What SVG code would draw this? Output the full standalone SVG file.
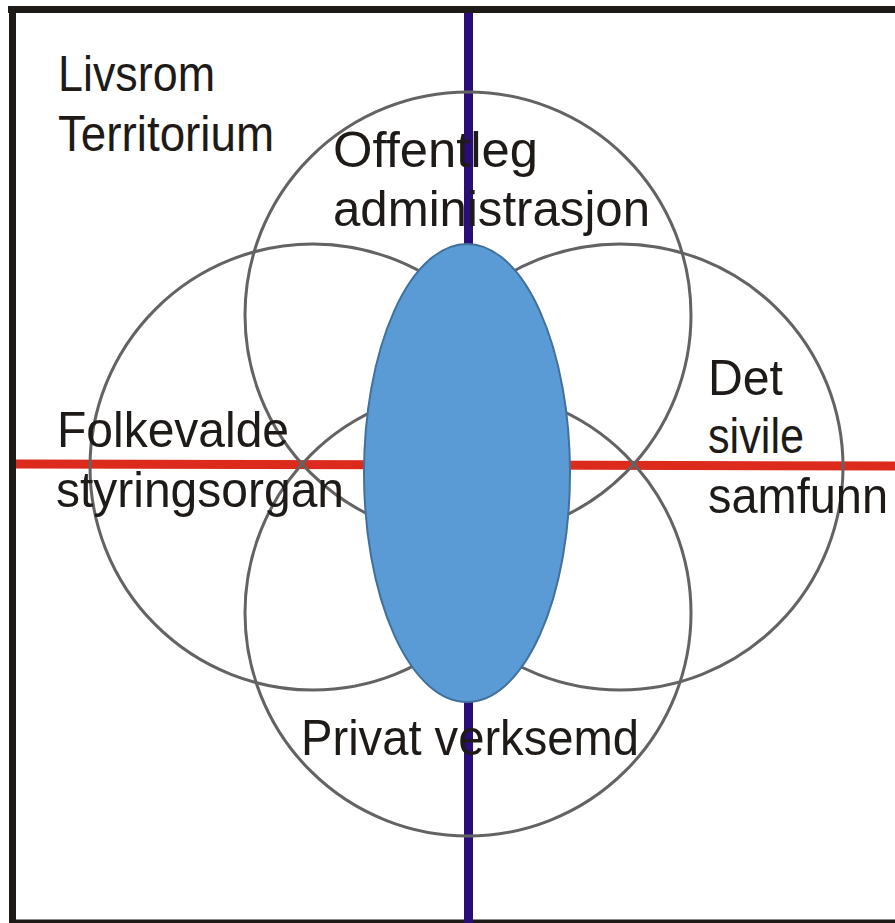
<svg xmlns="http://www.w3.org/2000/svg" width="895" height="923" viewBox="0 0 895 923">
  <style>
    .ring { fill: none; stroke: #646262; stroke-width: 3; }
    .lbl { font-family: "Liberation Sans", Arial, sans-serif; font-size: 50px; fill: #1e1a18; }
    .frame { stroke: #1e1a18; fill: none; }
  </style>
  <rect width="895" height="923" fill="#ffffff"/>

  <!-- outer frame -->
  <g id="frame">
    <line class="frame" x1="8" y1="9.5" x2="895" y2="9.5" stroke-width="7"/>
    <line class="frame" x1="12.5" y1="6" x2="12.5" y2="923" stroke-width="7"/>
    <line class="frame" x1="9" y1="921.5" x2="895" y2="921.5" stroke-width="4"/>
    <text class="lbl" x="58" y="91" textLength="157" lengthAdjust="spacingAndGlyphs">Livsrom</text>
    <text class="lbl" x="58" y="151" textLength="216" lengthAdjust="spacingAndGlyphs">Territorium</text>
  </g>

  <!-- axes -->
  <g id="connectors">
    <line x1="16" y1="464" x2="895" y2="466" stroke="#dc2a1c" stroke-width="9"/>
    <line x1="468.5" y1="13" x2="468.5" y2="923" stroke="#2b0d78" stroke-width="9"/>
  </g>

  <!-- four overlapping sectors -->
  <g id="offentleg">
    <circle class="ring" cx="468" cy="315" r="223"/>
  </g>
  <g id="folkevalde">
    <circle class="ring" cx="313" cy="467" r="223"/>
  </g>
  <g id="sivile">
    <circle class="ring" cx="620" cy="467" r="223"/>
  </g>
  <g id="privat">
    <circle class="ring" cx="468" cy="613" r="223"/>
  </g>

  <!-- shared core -->
  <g id="core">
    <ellipse cx="467" cy="473" rx="103" ry="229" fill="#5b9bd5" stroke="#41719c" stroke-width="2"/>
  </g>

  <!-- sector labels -->
  <g id="labels">
    <text class="lbl" x="333" y="167" textLength="205" lengthAdjust="spacingAndGlyphs">Offentleg</text>
    <text class="lbl" x="333" y="226" textLength="317" lengthAdjust="spacingAndGlyphs">administrasjon</text>
    <text class="lbl" x="57" y="447" textLength="232" lengthAdjust="spacingAndGlyphs">Folkevalde</text>
    <text class="lbl" x="56" y="507" textLength="288" lengthAdjust="spacingAndGlyphs">styringsorgan</text>
    <text class="lbl" x="708" y="395" textLength="75" lengthAdjust="spacingAndGlyphs">Det</text>
    <text class="lbl" x="708" y="453" textLength="96" lengthAdjust="spacingAndGlyphs">sivile</text>
    <text class="lbl" x="708" y="513" font-size="47" textLength="180" lengthAdjust="spacingAndGlyphs">samfunn</text>
    <text class="lbl" x="301" y="755" textLength="338" lengthAdjust="spacingAndGlyphs">Privat verksemd</text>
  </g>
</svg>
